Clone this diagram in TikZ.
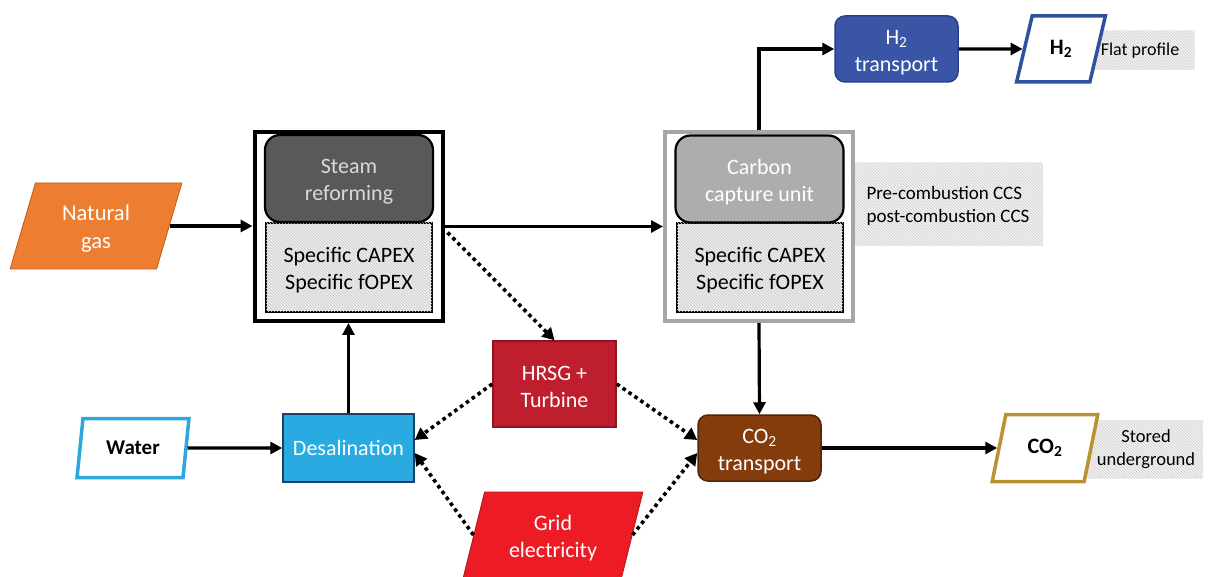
\documentclass[tikz,border=0pt]{standalone}
\usepackage{fontspec}
\setmainfont{Carlito}
\usetikzlibrary{shapes.geometric,arrows.meta,patterns,calc}
\newcommand\firststrut{\rule{0pt}{21pt}}
\definecolor{ngorange}{HTML}{ED7D31}
\definecolor{ngborder}{HTML}{C55A11}
\definecolor{steamgray}{HTML}{595959}
\definecolor{steamtext}{HTML}{D9D9D9}
\definecolor{ccgray}{HTML}{ADADAD}
\definecolor{ccborder}{HTML}{A6A6A6}
\definecolor{htblue}{HTML}{3A55A6}
\definecolor{htborder}{HTML}{2A3F85}
\definecolor{hout}{HTML}{2F52A0}
\definecolor{hrsgred}{HTML}{BE1E2D}
\definecolor{hrsgborder}{HTML}{8E1620}
\definecolor{gridred}{HTML}{ED1C24}
\definecolor{gridborder}{HTML}{B01218}
\definecolor{desalblue}{HTML}{29ABE2}
\definecolor{desalborder}{HTML}{1F3F66}
\definecolor{waterblue}{HTML}{2DA8DF}
\definecolor{co2brown}{HTML}{843C0C}
\definecolor{co2border}{HTML}{4F2408}
\definecolor{co2gold}{HTML}{B8932F}
\definecolor{hatchbg}{HTML}{F4F4F4}
\definecolor{hatchbox}{HTML}{ECECEC}
\definecolor{hatchline}{HTML}{CCCCCC}
\begin{document}
\begin{tikzpicture}[x=1pt,y=-1pt,
  mainfont/.style={font=\fontsize{22}{27}\selectfont},
  outerbox/.style={draw, line width=4pt, minimum width=188pt, minimum height=189pt, inner sep=0pt},
  unitbox/.style={draw, line width=2.2pt, rounded corners=15pt, minimum width=168pt, minimum height=87pt, inner sep=0pt, align=center, mainfont},
  costbox/.style={draw, line width=2.5pt, fill=hatchbox, postaction={pattern=north west lines, pattern color=hatchline}, minimum width=166pt, minimum height=89pt, inner sep=0pt, align=center, mainfont},
  note/.style={fill=hatchbg, postaction={pattern=north west lines, pattern color=hatchline}, inner sep=0pt},
  para/.style={trapezium, trapezium stretches=true, inner sep=0pt, align=center},
  procbox/.style={draw, line width=1.5pt, inner sep=0pt, align=center, mainfont, text=white},
  flow/.style={line width=3.2pt, -{Triangle[length=12pt,width=12pt]}},
  elec/.style={line width=3.6pt, dash pattern=on 3.6pt off 3.6pt, -{Triangle[length=12pt,width=13pt]}}
]
\useasboundingbox (0,0) rectangle (1208,577);

% side notes (behind)
\node[note, minimum width=188pt, minimum height=83pt] (ccsnote) at (949,204.5) {};
\node[font=\fontsize{19}{23}\selectfont, align=left, anchor=west] (ccstext) at (863,206) {Pre-combustion CCS\\post-combustion CCS};
\node[note, minimum width=105pt, minimum height=39pt] (flatnote) at (1142,50.5) {};
\node[font=\fontsize{18}{21}\selectfont] (flattext) at (1140,51) {Flat profile};
\node[note, minimum width=120pt, minimum height=58pt] (storednote) at (1143,449) {};
\node[align=center, font=\fontsize{18.5}{23}\selectfont] (storedtext) at (1146,449) {Stored\\underground};

% steam reforming
\node[outerbox, fill=white] (so) at (348.5,226.5) {};
\node[costbox] (sc) at (349,267.5) {\firststrut Specific CAPEX\\Specific fOPEX};
\node[unitbox, fill=steamgray, text=steamtext] (sr) at (349,178.5) {\firststrut Steam\\reforming};

% carbon capture
\node[outerbox, draw=ccborder, fill=white] (co) at (759,226.5) {};
\node[costbox] (cc) at (760,267.5) {\firststrut Specific CAPEX\\Specific fOPEX};
\node[unitbox, fill=ccgray, text=white] (cu) at (759.5,179) {\firststrut Carbon\\capture unit};

% inputs
\node[para, trapezium left angle=75, trapezium right angle=105, minimum width=172pt, minimum height=86pt, fill=ngorange, draw=ngborder, line width=0.8pt, text=white, font=\fontsize{22.5}{28}\selectfont] (ng) at (96,226) {\firststrut Natural\\gas};
\node[para, trapezium left angle=77, trapezium right angle=103, minimum width=112pt, minimum height=59pt, fill=white, draw=waterblue, line width=3.5pt, font=\fontsize{21}{25}\selectfont\bfseries] (water) at (133,448) {Water};
\node[para, trapezium left angle=75, trapezium right angle=105, minimum width=180pt, minimum height=86pt, fill=gridred, draw=gridborder, line width=0.8pt, text=white, mainfont] (grid) at (553,535) {\firststrut Grid\\electricity};

% process boxes
\node[procbox, fill=desalblue, draw=desalborder, minimum width=131pt, minimum height=68pt] (desal) at (348.5,448) {Desalination};
\node[procbox, fill=hrsgred, draw=hrsgborder, minimum width=123pt, minimum height=86pt] (hrsg) at (554.5,384) {\firststrut HRSG +\\Turbine};
\node[procbox, fill=co2brown, draw=co2border, rounded corners=10pt, minimum width=123pt, minimum height=66pt] (co2t) at (759.5,448) {\firststrut CO\textsubscript{2}\\transport};
\node[procbox, fill=htblue, draw=htborder, rounded corners=10pt, minimum width=123pt, minimum height=66pt] (h2t) at (896.5,49) {\firststrut H\textsubscript{2}\\transport};

% outputs
\node[para, trapezium left angle=71, trapezium right angle=109, minimum width=89pt, minimum height=66pt, fill=white, draw=hout, line width=3.5pt, font=\fontsize{22}{26}\selectfont\bfseries] (h2o) at (1061,49) {H\textsubscript{2}};
\node[para, trapezium left angle=71, trapezium right angle=109, minimum width=106pt, minimum height=67pt, fill=white, draw=co2gold, line width=3.5pt, font=\fontsize{22}{26}\selectfont\bfseries] (co2o) at (1045,448) {CO\textsubscript{2}};

% solid flows
\draw[flow] (ng.east) -- (ng.east -| so.west);
\draw[flow] (so.east) -- (co.west);
\draw[flow] (co.north) |- (h2t.west);
\draw[flow] (h2t.east) -- (h2o.west);
\draw[flow] (desal.north) -- (so.south);
\draw[flow] (water.east) -- (desal.west);
\draw[flow] (co.south) -- (co2t.north);
\draw[flow] (co2t.east) -- (co2o.west);

% electricity (dotted)
\coordinate (sstart) at ([shift={(3pt,-6pt)}]so.east);
\draw[elec] (sstart) -- (hrsg.north);
\draw[elec] (hrsg.west) -- ([yshift=8pt]desal.east);
\draw[elec] (grid.west) -- ([yshift=-5pt]desal.east);
\draw[elec] (hrsg.east) -- ([yshift=8pt]co2t.west);
\draw[elec] (grid.east) -- ([yshift=-5pt]co2t.west);
\end{tikzpicture}
\end{document}
